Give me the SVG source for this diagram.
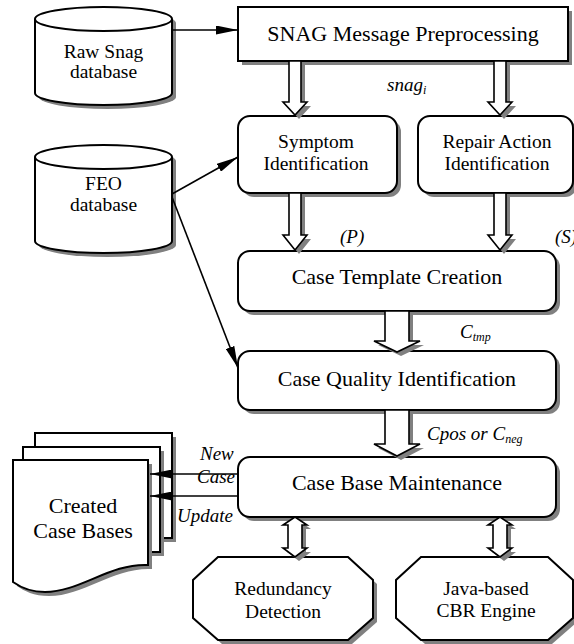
<svg xmlns="http://www.w3.org/2000/svg" width="574" height="644" viewBox="0 0 574 644" font-family="'Liberation Serif', 'DejaVu Serif', serif">
<style>
.sh{fill:#808080;stroke:none}
.nd{fill:#fff;stroke:#000;stroke-width:2}
.ar{fill:#fff;stroke:#000;stroke-width:1.6;stroke-linejoin:miter}
.ln{fill:none;stroke:#000;stroke-width:1.6}
text{font-family:'Liberation Serif','DejaVu Serif',serif;fill:#000}
.big{font-size:22px;text-anchor:middle}
.mid{font-size:19.5px;text-anchor:middle}
.it{font-size:19px;font-style:italic}
.sub{font-size:12px;font-style:italic}
</style>
<defs>
<marker id="ah" markerUnits="userSpaceOnUse" markerWidth="22" markerHeight="9" refX="22" refY="4.5" orient="auto">
<path d="M0,0 L22,4.5 L0,9 Z" fill="#000"/>
</marker>
</defs>

<g id="raw-snag-db">
<path class="sh" transform="translate(4,4)" d="M35,19 V93 A68.5,12 0 0 0 172,93 V19 A68.5,12 0 0 0 35,19 Z"/>
<path class="nd" d="M35,19 V93 A68.5,12 0 0 0 172,93 V19 A68.5,12 0 0 0 35,19 Z"/>
<path class="nd" fill="none" d="M35,19 A68.5,12 0 0 0 172,19"/>
<text class="mid" x="103.5" y="58">Raw Snag</text>
<text class="mid" x="103.5" y="78">database</text>
</g>

<g id="feo-db">
<path class="sh" transform="translate(4,4)" d="M35,157 V241 A68.5,12 0 0 0 172,241 V157 A68.5,12 0 0 0 35,157 Z"/>
<path class="nd" d="M35,157 V241 A68.5,12 0 0 0 172,241 V157 A68.5,12 0 0 0 35,157 Z"/>
<path class="nd" fill="none" d="M35,157 A68.5,12 0 0 0 172,157"/>
<text class="mid" x="103.5" y="190">FEO</text>
<text class="mid" x="103.5" y="211">database</text>
</g>

<g id="snag-preprocessing">
<rect class="sh" x="242" y="11" width="330" height="54"/>
<rect class="nd" x="238" y="7" width="330" height="54"/>
<text class="big" x="403" y="41">SNAG Message Preprocessing</text>
</g>

<g id="symptom-identification">
<rect class="sh" x="242" y="120" width="159" height="77" rx="12"/>
<rect class="nd" x="238" y="116" width="159" height="77" rx="12"/>
<text class="mid" x="316" y="148">Symptom</text>
<text class="mid" x="316" y="170">Identification</text>
</g>

<g id="repair-action-identification">
<rect class="sh" x="422" y="120" width="155" height="77" rx="12"/>
<rect class="nd" x="418" y="116" width="155" height="77" rx="12"/>
<text class="mid" x="497" y="148">Repair Action</text>
<text class="mid" x="497" y="170">Identification</text>
</g>

<g id="case-template-creation">
<rect class="sh" x="242" y="255" width="318" height="60" rx="12"/>
<rect class="nd" x="238" y="251" width="318" height="60" rx="12"/>
<text class="big" x="397" y="284">Case Template Creation</text>
</g>

<g id="case-quality-identification">
<rect class="sh" x="242" y="355" width="318" height="59" rx="12"/>
<rect class="nd" x="238" y="351" width="318" height="59" rx="12"/>
<text class="big" x="397" y="386">Case Quality Identification</text>
</g>

<g id="case-base-maintenance">
<rect class="sh" x="242" y="461" width="318" height="60" rx="12"/>
<rect class="nd" x="238" y="457" width="318" height="60" rx="12"/>
<text class="big" x="397" y="490">Case Base Maintenance</text>
</g>

<g id="created-case-bases">
<rect class="sh" x="39" y="437" width="137" height="105"/>
<rect class="nd" x="35" y="433" width="137" height="105"/>
<rect class="sh" x="27" y="451" width="137" height="105"/>
<rect class="nd" x="23" y="447" width="137" height="105"/>
<path class="sh" transform="translate(4,4)" d="M13,460 H148 V565 C110,563 80,592 45,592 C30,592 20,587 13,582 Z"/>
<path class="nd" d="M13,460 H148 V565 C110,563 80,592 45,592 C30,592 20,587 13,582 Z"/>
<text class="big" x="83" y="513">Created</text>
<text class="big" x="83" y="538">Case Bases</text>
</g>

<g id="redundancy-detection">
<polygon class="sh" transform="translate(4,4)" points="218,557 348,557 373,580 373,618 348,640 218,640 193,618 193,580"/>
<polygon class="nd" points="218,557 348,557 373,580 373,618 348,640 218,640 193,618 193,580"/>
<text class="mid" x="283" y="595">Redundancy</text>
<text class="mid" x="283" y="618">Detection</text>
</g>

<g id="java-cbr-engine">
<polygon class="sh" transform="translate(4,4)" points="421,557 548,557 573,580 573,618 548,640 421,640 396,618 396,580"/>
<polygon class="nd" points="421,557 548,557 573,580 573,618 548,640 421,640 396,618 396,580"/>
<text class="mid" x="486" y="595">Java-based</text>
<text class="mid" x="486" y="617">CBR Engine</text>
</g>

<g id="connectors">
<line class="ln" x1="172" y1="30" x2="238" y2="30" marker-end="url(#ah)"/>
<line class="ln" x1="172" y1="194" x2="238" y2="157" marker-end="url(#ah)"/>
<line class="ln" x1="172" y1="197" x2="238" y2="368" marker-end="url(#ah)"/>
<path class="sh" transform="translate(4,4)" d="M289,61 V102 H283 L295,115 L307,102 H301 V61 Z"/>
<path class="ar" d="M289,61 V102 H283 L295,115 L307,102 H301 V61 Z"/>
<path class="sh" transform="translate(4,4)" d="M494,61 V102 H488 L500,115 L512,102 H506 V61 Z"/>
<path class="ar" d="M494,61 V102 H488 L500,115 L512,102 H506 V61 Z"/>
<path class="sh" transform="translate(4,4)" d="M289,193 V235 H283 L295,250 L307,235 H301 V193 Z"/>
<path class="ar" d="M289,193 V235 H283 L295,250 L307,235 H301 V193 Z"/>
<path class="sh" transform="translate(4,4)" d="M494,193 V235 H488 L500,250 L512,235 H506 V193 Z"/>
<path class="ar" d="M494,193 V235 H488 L500,250 L512,235 H506 V193 Z"/>
<path class="sh" transform="translate(4,4)" d="M385,311 V341 H374 L397,352 L420,341 H409 V311 Z"/>
<path class="ar" d="M385,311 V341 H374 L397,352 L420,341 H409 V311 Z"/>
<path class="sh" transform="translate(4,4)" d="M385,410 V444 H374 L397,456 L420,444 H409 V410 Z"/>
<path class="ar" d="M385,410 V444 H374 L397,456 L420,444 H409 V410 Z"/>
<path class="sh" transform="translate(4,4)" d="M295,517 L307,525 H302 V548 H307 L295,557 L283,548 H288 V525 H283 Z"/>
<path class="ar" d="M295,517 L307,525 H302 V548 H307 L295,557 L283,548 H288 V525 H283 Z"/>
<path class="sh" transform="translate(4,4)" d="M500,517 L512,525 H507 V548 H512 L500,557 L488,548 H493 V525 H488 Z"/>
<path class="ar" d="M500,517 L512,525 H507 V548 H512 L500,557 L488,548 H493 V525 H488 Z"/>
<line class="ln" x1="238" y1="474" x2="150" y2="474" marker-end="url(#ah)"/>
<line class="ln" x1="238" y1="496" x2="150" y2="496" marker-end="url(#ah)"/>
<text class="it" x="387" y="91">snag<tspan class="sub" dy="3">i</tspan></text>
<text class="it" x="340" y="243">(P)</text>
<text class="it" x="555" y="243">(S)</text>
<text class="it" x="460" y="338">C<tspan class="sub" dy="3">tmp</tspan></text>
<text class="it" x="427" y="440">Cpos or C<tspan class="sub" dy="3">neg</tspan></text>
<text class="it" x="200" y="460">New</text>
<text class="it" x="197" y="483">Case</text>
<text class="it" x="177" y="522">Update</text>
</g>
</svg>
